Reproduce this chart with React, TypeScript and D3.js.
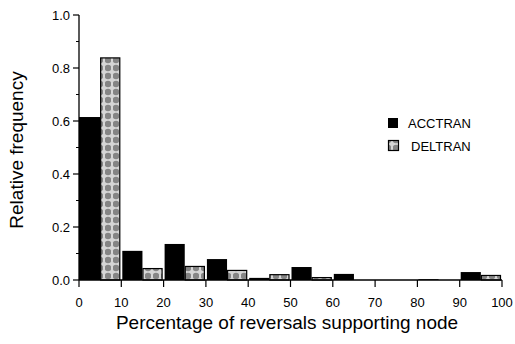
import React from "react";
import * as d3 from "d3";

const bins = [0, 10, 20, 30, 40, 50, 60, 70, 80, 90];
const acctran = [0.615, 0.11, 0.136, 0.079, 0.008, 0.049, 0.023, 0, 0.003, 0.03];
const deltran = [0.84, 0.045, 0.053, 0.038, 0.022, 0.011, 0, 0, 0.001, 0.019];
const xTicks = [0, 10, 20, 30, 40, 50, 60, 70, 80, 90, 100];
const yTicks = [0, 0.2, 0.4, 0.6, 0.8, 1.0];
const yMinor = [0.1, 0.3, 0.5, 0.7, 0.9];
const seriesNames = ["ACCTRAN", "DELTRAN"];

export default function App() {
  const W = 515, H = 344;
  const x = d3.scaleLinear().domain([0, 100]).range([79, 502]);
  const y = d3.scaleLinear().domain([0, 1]).range([280, 15]);
  const font = "'Liberation Sans', Arial, Helvetica, sans-serif";

  return (
    <svg width={W} height={H} style={{ position: "absolute", left: 0, top: 0 }} fontFamily={font}>
      <defs>
        <pattern id="dots" width="8" height="8" patternUnits="userSpaceOnUse">
          <rect width="8" height="8" fill="#d6d6d6" />
          <rect x="0" y="3.5" width="8" height="1" fill="#f4f4f4" />
          <circle cx="4" cy="4" r="3.2" fill="#858585" />
        </pattern>
      </defs>
      <rect width={W} height={H} fill="#fff" />

      {/* bars */}
      {bins.map((b, i) => (
        <g key={b}>
          {acctran[i] > 0 && (
            <rect
              x={x(b) + (i === 0 ? 0 : 1)}
              y={y(acctran[i])}
              width={x(b + 5) - x(b) - (i === 0 ? 0 : 1)}
              height={y(0) - y(acctran[i])}
              fill="#000"
            />
          )}
          {deltran[i] > 0 && (
            <rect
              x={x(b + 5) + 0.5}
              y={y(deltran[i]) + 0.5}
              width={x(b + 10) - x(b + 5) - 2}
              height={Math.max(0, y(0) - y(deltran[i]) - 0.5)}
              fill="url(#dots)"
              stroke="#000"
              strokeWidth={1.2}
            />
          )}
        </g>
      ))}

      {/* y axis */}
      <line x1={x(0)} x2={x(0)} y1={y(1)} y2={y(0)} stroke="#000" strokeWidth={1.3} />
      {yTicks.map((t) => (
        <g key={t}>
          <line x1={x(0) - 6} x2={x(0)} y1={y(t)} y2={y(t)} stroke="#000" strokeWidth={1.2} />
          <text x={x(0) - 9} y={y(t)} dy="0.36em" textAnchor="end" fontSize={13}>
            {t.toFixed(1)}
          </text>
        </g>
      ))}
      {yMinor.map((t) => (
        <line key={t} x1={x(0) - 3} x2={x(0)} y1={y(t)} y2={y(t)} stroke="#000" strokeWidth={1} />
      ))}

      {/* x axis */}
      <line x1={x(0)} x2={x(100)} y1={y(0)} y2={y(0)} stroke="#000" strokeWidth={1.3} />
      {xTicks.map((t) => (
        <g key={t}>
          <line x1={x(t)} x2={x(t)} y1={y(0)} y2={y(0) + 7} stroke="#000" strokeWidth={1.2} />
          <text x={x(t)} y={307} textAnchor="middle" fontSize={13}>
            {t}
          </text>
        </g>
      ))}

      {/* axis titles */}
      <text x={287} y={329} textAnchor="middle" fontSize={19}>
        Percentage of reversals supporting node
      </text>
      <text transform={`translate(23,150) rotate(-90)`} textAnchor="middle" fontSize={19}>
        Relative frequency
      </text>

      {/* legend */}
      <rect x={388} y={118} width={10} height={10} fill="#000" />
      <text x={408} y={128} fontSize={13}>{seriesNames[0]}</text>
      <rect x={388.5} y={140.5} width={10} height={10} fill="url(#dots)" stroke="#000" strokeWidth={1.2} />
      <text x={411} y={151} fontSize={13}>{seriesNames[1]}</text>
    </svg>
  );
}
